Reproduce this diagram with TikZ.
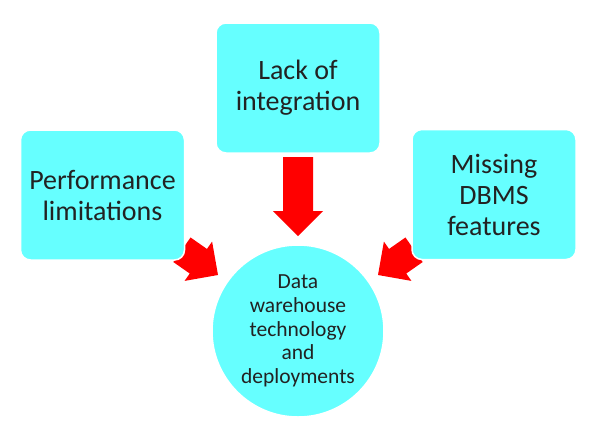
\documentclass[tikz,border=0pt]{standalone}
\usepackage{fontspec}
\setmainfont{Carlito}
\definecolor{boxcyan}{RGB}{102,255,255}
\definecolor{txtgray}{RGB}{34,34,34}
\begin{document}
\begin{tikzpicture}[x=1pt,y=-1pt,
  box/.style={draw=white, line width=1.5pt, fill=boxcyan, rounded corners=10pt,
    text=txtgray, font=\fontsize{28}{31}\selectfont, align=center, inner sep=0pt,
    minimum width=164pt, minimum height=130pt},
  hub/.style={circle, draw=white, line width=1.5pt, fill=boxcyan, text=txtgray,
    font=\fontsize{21.5}{23.75}\selectfont, align=center, inner sep=0pt, minimum size=172pt},
  redarrow/.style={fill=red, draw=none}]
\useasboundingbox (0,0) rectangle (600,437);
% block arrows (drawn first, boxes cover their backs)
\fill[redarrow, shift={(298,236)}, rotate=-90]
  (0,0) -- (-25,25) -- (-25,15) -- (-79,15) -- (-79,-15) -- (-25,-15) -- (-25,-25) -- cycle;
\fill[redarrow, shift={(218,275)}, rotate=-35]
  (0,0) -- (-24,24) -- (-24,15) -- (-44,15) -- (-44,-15) -- (-24,-15) -- (-24,-24) -- cycle;
\fill[redarrow, shift={(378,275)}, rotate=-145]
  (0,0) -- (-24,24) -- (-24,15) -- (-44,15) -- (-44,-15) -- (-24,-15) -- (-24,-24) -- cycle;
% boxes
\node[box] (perf) at (102.5,195) {Performance\\limitations};
\node[box] (lack) at (298,88) {Lack of\\integration};
\node[box] (miss) at (494,194.5) {Missing\\DBMS\\features};
\node[hub] (dw) at (298,331) {Data\\warehouse\\technology\\and\\deployments};
\end{tikzpicture}
\end{document}
